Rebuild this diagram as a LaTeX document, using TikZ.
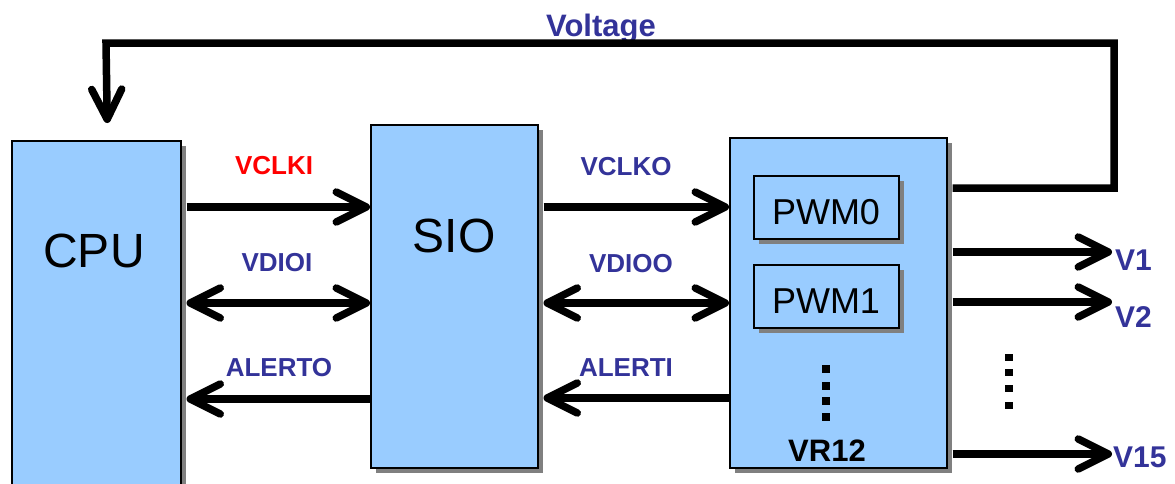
\documentclass[tikz,border=0pt]{standalone}
\usepackage{fontspec}
\setmainfont{Liberation Sans}
\usetikzlibrary{arrows.meta,shadows,calc}
\definecolor{boxblue}{HTML}{99CCFF}
\definecolor{lblue}{HTML}{333399}
\definecolor{lred}{HTML}{FF0000}
\begin{document}
\begin{tikzpicture}[x=1pt,y=-1pt,
  box/.style={draw=black, line width=1.5pt, fill=boxblue,
    drop shadow={shadow xshift=5pt,shadow yshift=-5pt,fill=black!50,opacity=1},
    inner sep=0pt, anchor=north west},
  big/.style={font=\fontsize{48}{56}\selectfont, anchor=base, inner sep=0pt},
  mid/.style={font=\fontsize{36}{42}\selectfont, anchor=base, inner sep=0pt},
  lab/.style={font=\bfseries\fontsize{26}{30}\selectfont, text=lblue, anchor=base, inner sep=0pt},
  vlab/.style={font=\bfseries\fontsize{30}{34}\selectfont, text=lblue, anchor=base west, inner sep=0pt},
  wire/.style={line width=7.5pt},
  >={Straight Barb[length=30pt,width=30pt,round]}
]
\useasboundingbox (0,0) rectangle (1175,483);

% boxes
\node[box, minimum width=169pt, minimum height=370pt] (cpu) at (11,140) {};
\node[box, minimum width=167pt, minimum height=343pt] (sio) at (370,124) {};
\node[box, minimum width=217pt, minimum height=330pt] (vr) at (729,137) {};
\node[box, minimum width=145pt, minimum height=63pt] (pwm0) at (753,175) {};
\node[box, minimum width=145pt, minimum height=63pt] (pwm1) at (753,264) {};

% box texts
\node[big] (cput) at (94,267) {CPU};
\node[big] (siot) at (454,252) {SIO};
\node[mid] (p0t) at (826,224) {PWM0};
\node[mid] (p1t) at (826,313) {PWM1};
\node[font=\bfseries\fontsize{31}{36}\selectfont, anchor=base, inner sep=0pt] (vrt) at (827,461) {VR12};

% labels
\node[lab, text=lred] (l1) at (274,174) {VCLKI};
\node[lab] (l2) at (277,271) {VDIOI};
\node[lab] (l3) at (279,376) {ALERTO};
\node[lab] (l4) at (626,175) {VCLKO};
\node[lab] (l5) at (631,272) {VDIOO};
\node[lab] (l6) at (626,376) {ALERTI};
\node[font=\bfseries\fontsize{31}{36}\selectfont, text=lblue, anchor=base, inner sep=0pt] (vt) at (601,36) {Voltage};
\node[vlab] (v1) at (1115,270) {V1};
\node[vlab] (v2) at (1115,327) {V2};
\node[vlab] (v15) at (1113,467) {V15};

% connectors CPU <-> SIO
\draw[wire,->] ($(cpu.east|-0,207)+(5,0)$) -- (sio.west|-0,207);
\draw[wire,<->] ($(cpu.east|-0,303)+(5,0)$) -- (sio.west|-0,303);
\draw[wire,->] (sio.west|-0,399) -- ($(cpu.east|-0,399)+(5,0)$);
% SIO <-> VR12
\draw[wire,->] ($(sio.east|-0,207)+(5,0)$) -- (vr.west|-0,207);
\draw[wire,<->] ($(sio.east|-0,303)+(5,0)$) -- (vr.west|-0,303);
\draw[wire,->] (vr.west|-0,398) -- ($(sio.east|-0,398)+(5,0)$);
% outputs
\draw[wire,->] ($(vr.east|-0,252)+(5,0)$) -- ([xshift=-3pt]v1.west|-0,252);
\draw[wire,->] ($(vr.east|-0,302)+(5,0)$) -- ([xshift=-3pt]v2.west|-0,302);
\draw[wire,->] ($(vr.east|-0,454)+(5,0)$) -- ([xshift=-1pt]v15.west|-0,454);
% voltage feedback
\draw[wire,->] ($(vr.east|-0,188)+(5,0)$) -- (1114,188) -- (1114,43) -- (106,43) -- ($(cpu.north)+(11,-17)$);

% dots
\foreach \yy in {369,386,401,417} \fill (822,\yy-4) rectangle ++(8,8);
\foreach \yy in {357,372,388,405} \fill (1005,\yy-3.5) rectangle ++(8,7);
\end{tikzpicture}
\end{document}
